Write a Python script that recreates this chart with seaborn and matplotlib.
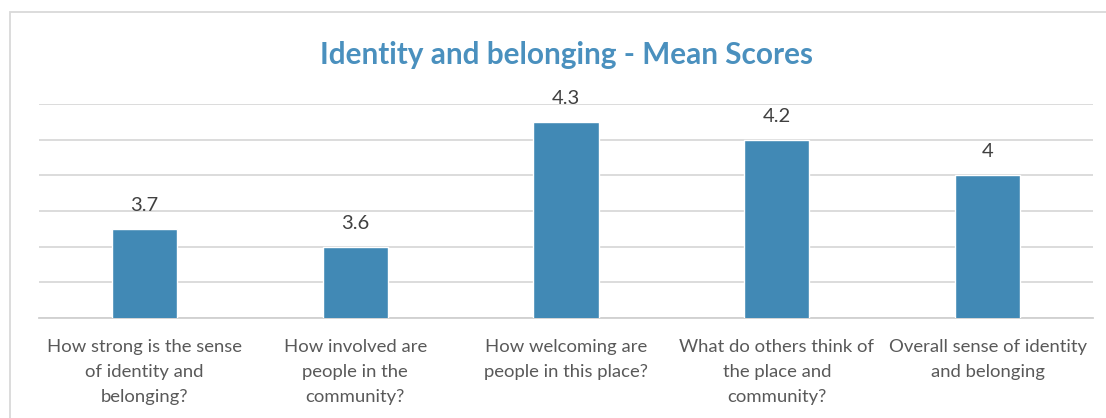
import matplotlib
matplotlib.use("Agg")
import matplotlib.pyplot as plt
from matplotlib.patches import Rectangle
import seaborn as sns
import pandas as pd

categories = [
    "How strong is the sense\nof identity and\nbelonging?",
    "How involved are\npeople in the\ncommunity?",
    "How welcoming are\npeople in this place?",
    "What do others think of\nthe place and\ncommunity?",
    "Overall sense of identity\nand belonging",
]
scores = [3.7, 3.6, 4.3, 4.2, 4.0]
score_labels = ["3.7", "3.6", "4.3", "4.2", "4"]
grid_ticks = [3.2, 3.4, 3.6, 3.8, 4.0, 4.2, 4.4]

sns.set_theme(style="white")
plt.rcParams["font.family"] = ["Lato", "DejaVu Sans"]

bar_color = "#4189b5"
title_color = "#4a90be"
text_color = "#595959"
grid_color = "#d9d9d9"

W, H = 1106, 418
fig = plt.figure(figsize=(W / 100, H / 100), dpi=100)
ax = fig.add_axes([39 / W, 1 - 318 / H, (1093 - 39) / W, (318 - 104) / H])

df = pd.DataFrame({"question": categories, "score": scores})
sns.barplot(data=df, x="question", y="score", color=bar_color, width=0.31,
            saturation=1, ax=ax, zorder=3)

ax.set_ylim(3.2, 4.4)
ax.set_xlim(-0.5, len(categories) - 0.5)
ax.set_yticks(grid_ticks)
ax.yaxis.grid(True, color=grid_color, linewidth=1.3, zorder=0)
ax.set_axisbelow(True)
ax.tick_params(axis="y", left=False, labelleft=False)
ax.tick_params(axis="x", bottom=False, labelsize=13.3, labelcolor=text_color, pad=9)
for lbl in ax.get_xticklabels():
    lbl.set_linespacing(1.7)
ax.set_xlabel("")
ax.set_ylabel("")
for side in ["left", "right", "top"]:
    ax.spines[side].set_visible(False)
ax.spines["bottom"].set_color("#d0d0d0")
ax.spines["bottom"].set_linewidth(1.3)

for i, (v, s) in enumerate(zip(scores, score_labels)):
    ax.text(i, v + 0.085, s, ha="center", va="bottom", fontsize=14.5,
            color="#404040")

fig.text(566 / W, 1 - 55 / H, "Identity and belonging - Mean Scores",
         ha="center", va="center", fontsize=21.4, fontweight="bold",
         color=title_color)

# outer chart frame
fig.patches.append(Rectangle((10 / W, -0.2), 1.2, 1.2 - 12 / H,
                             transform=fig.transFigure, fill=False,
                             edgecolor="#d9d9d9", linewidth=1.3))

fig.savefig("out.png", dpi=100, facecolor="white")
